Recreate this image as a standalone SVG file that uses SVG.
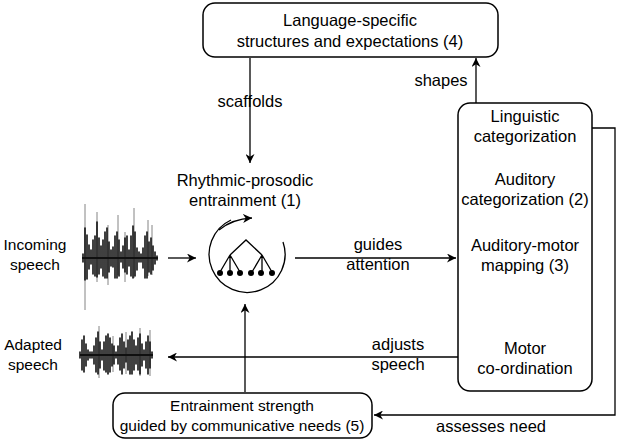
<svg xmlns="http://www.w3.org/2000/svg" width="619" height="442" viewBox="0 0 619 442">
<defs>
<style>
text{font-family:"Liberation Sans",Arial,sans-serif;font-size:16.5px;fill:#000;text-anchor:middle}
.sm{font-size:15.5px}
.box{fill:#fff;stroke:#000;stroke-width:1.5}
.ln{fill:none;stroke:#000;stroke-width:1.3}
.wv{stroke:#111;stroke-width:1.6;stroke-linecap:round}
.wl{stroke:#666;stroke-width:0.8}
</style>
<marker id="ah" viewBox="0 0 10 10" refX="10" refY="5" markerWidth="9" markerHeight="9" orient="auto" markerUnits="userSpaceOnUse"><path d="M0,0 L10,5 L0,10 L3,5 z" fill="#000"/></marker>
</defs>
<g id="connectors">
<line class="ln" x1="250" y1="58" x2="250" y2="163" marker-end="url(#ah)"/>
<line class="ln" x1="476" y1="103" x2="476" y2="58" marker-end="url(#ah)"/>
<line class="ln" x1="295" y1="258" x2="456" y2="258" marker-end="url(#ah)"/>
<line class="ln" x1="168" y1="258" x2="196" y2="258" marker-end="url(#ah)"/>
<line class="ln" x1="458" y1="357" x2="168" y2="357" marker-end="url(#ah)"/>
<line class="ln" x1="245" y1="392" x2="245" y2="304" marker-end="url(#ah)"/>
<polyline class="ln" points="592,128 615,128 615,415 374,415" marker-end="url(#ah)"/>
<text x="250" y="107">scaffolds</text>
<text x="441" y="86">shapes</text>
<text x="378" y="250">guides</text>
<text x="378" y="270">attention</text>
<text x="398" y="350">adjusts</text>
<text x="398" y="370">speech</text>
<text x="491" y="432">assesses need</text>
</g>
<g id="n4"><rect class="box" x="203" y="3" width="295" height="54" rx="12"/>
<text x="350" y="26">Language-specific</text><text x="350" y="47">structures and expectations (4)</text></g>
<g id="right"><rect class="box" x="458" y="103" width="134" height="288" rx="12"/>
<text x="525" y="122">Linguistic</text><text x="525" y="142">categorization</text>
<text x="525" y="185">Auditory</text><text x="525" y="205">categorization (2)</text>
<text x="525" y="251">Auditory-motor</text><text x="525" y="271">mapping (3)</text>
<text x="525" y="354">Motor</text><text x="525" y="374">co-ordination</text></g>
<g id="n5"><rect class="box" x="113" y="393" width="259" height="45" rx="12"/>
<text class="sm" x="242" y="411">Entrainment strength</text><text class="sm" x="242" y="431">guided by communicative needs (5)</text></g>
<g id="n1"><text x="245" y="186">Rhythmic-prosodic</text><text x="245" y="206">entrainment (1)</text>
<path class="ln" d="M283,242 A38,38 0 1 1 231,220" />
<path class="ln" d="M219,230 Q232,219 252,218" marker-end="url(#ah)"/>
<path class="ln" d="M230,255 L246,240 L262,255 M230,255 L220,272 M230,255 L230,272 M230,255 L240,272 M262,255 L252,272 M262,255 L262,272 M262,255 L272,272"/>
<g fill="#000"><circle cx="220" cy="273" r="3"/><circle cx="230" cy="273" r="3"/><circle cx="240" cy="273" r="3"/><circle cx="251" cy="273" r="3"/><circle cx="261" cy="273" r="3"/><circle cx="272" cy="273" r="3"/></g></g>
<g id="incoming"><text class="sm" x="35" y="250">Incoming</text><text class="sm" x="35" y="270">speech</text>
<path class="wl" d="M85,204v106M97,212v70M108,225v60M118,215v60M125,232v50M134,208v70M148,220v56M152,225v50"/>
<line x1="82" y1="258" x2="158" y2="258" stroke="#111" stroke-width="2"/>
<path class="wv" d="M83,254v8M85,228v52M87,235v44M89,245v24M91,250v14M93,240v34M95,236v40M97,222v55M99,238v36M101,246v22M103,240v36M105,232v46M107,228v50M109,242v30M111,250v16M113,247v20M115,236v42M117,232v46M119,240v36M121,252v10M123,246v22M125,238v34M127,236v38M129,250v16M131,236v40M133,226v52M135,232v44M137,248v22M139,252v10M141,254v8M143,248v20M145,236v42M147,232v46M149,242v30M151,238v36M153,246v24M155,252v12M157,256v4"/></g>
<g id="adapted"><text class="sm" x="33" y="350">Adapted</text><text class="sm" x="33" y="370">speech</text>
<path class="wl" d="M99,326v52M113,336v36M126,332v42M140,328v48M150,330v46"/>
<line x1="80" y1="355" x2="153" y2="355" stroke="#111" stroke-width="2"/>
<path class="wv" d="M80,352v6M82,340v30M84,336v36M86,344v22M88,350v10M90,352v6M92,352v6M94,346v18M96,338v34M98,332v42M100,342v26M102,350v10M104,342v28M106,336v36M108,334v40M110,338v34M112,344v22M114,346v18M116,352v6M118,346v18M120,338v32M122,334v40M124,342v26M126,348v14M128,340v30M130,336v38M132,332v42M134,340v30M136,346v18M138,338v32M140,334v40M142,344v22M144,350v10M146,342v26M148,336v38M150,342v26M152,352v6"/></g>
</svg>
